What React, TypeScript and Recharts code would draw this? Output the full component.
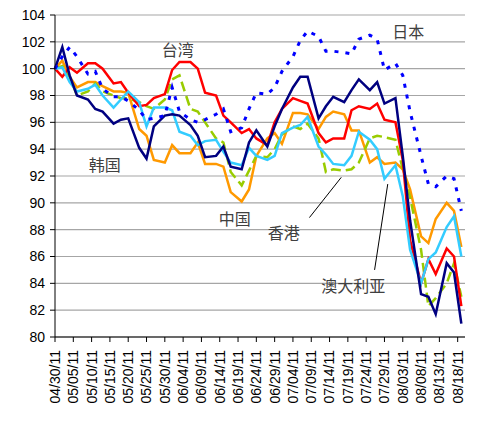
import { LineChart, Line, XAxis, YAxis, CartesianGrid, ReferenceDot, ReferenceLine } from 'recharts';

// days since 04/30/11
const days = [0, 2, 4, 6, 9, 11, 13, 16, 18, 20, 23, 25, 27, 30, 32, 34, 37, 39, 41, 44, 46, 48, 51, 53, 55, 58, 60, 62, 65, 67, 69, 72, 74, 76, 79, 81, 83, 86, 88, 90, 93, 95, 97, 100, 102, 104, 107, 109, 111];

const japan = [100, 100.9, 101.6, 100.9, 99.6, 99.8, 98.5, 97.9, 97.9, 97.6, 96.9, 96.2, 96.3, 96.5, 98.6, 96.8, 96.2, 96.0, 96.2, 96.6, 97.0, 95.3, 95.6, 97.0, 98.2, 98.1, 98.6, 99.8, 100.9, 102.1, 102.8, 102.4, 101.3, 101.3, 101.2, 101.1, 102.2, 102.5, 102.2, 99.9, 100.4, 99.5, 96.8, 93.5, 91.4, 91.2, 92.0, 91.8, 89.4];
const taiwan = [100, 99.4, 100.1, 99.7, 100.4, 100.4, 100.0, 98.9, 99.0, 98.2, 97.2, 97.3, 97.8, 98.1, 99.9, 100.5, 100.5, 100.0, 98.2, 98.0, 96.5, 96.0, 95.2, 95.5, 94.8, 94.3, 96.0, 97.0, 97.8, 97.6, 97.4, 95.2, 94.5, 94.8, 94.8, 96.9, 97.2, 97.0, 97.4, 96.2, 96.0, 93.2, 87.2, 84.0, 85.8, 84.7, 86.6, 86.0, 82.3];
const korea = [100, 101.6, 99.5, 98.0, 97.7, 97.0, 96.8, 95.9, 96.2, 96.3, 94.1, 93.3, 95.7, 96.5, 96.6, 96.5, 95.8, 95.0, 93.4, 93.5, 94.2, 92.7, 92.5, 94.5, 95.4, 94.2, 95.7, 97.0, 98.6, 99.4, 99.4, 96.3, 97.2, 97.9, 97.5, 98.4, 99.2, 98.4, 99.0, 97.4, 97.8, 93.5, 88.7, 83.2, 83.0, 81.7, 85.5, 84.8, 81.0];
const china = [100, 100.6, 99.4, 98.6, 99.0, 99.0, 98.7, 98.3, 98.3, 98.2, 95.5, 95.0, 93.2, 93.0, 94.3, 93.7, 93.7, 94.5, 92.9, 92.9, 92.7, 90.8, 90.1, 91.0, 93.5, 94.8, 95.2, 94.4, 96.7, 96.7, 96.6, 95.5, 96.4, 96.8, 96.6, 95.4, 95.4, 93.0, 93.4, 92.9, 93.0, 92.5, 91.0, 87.5, 87.0, 88.8, 90.0, 89.4, 86.7];
const hongkong = [100, 100.2, 99.4, 98.0, 98.3, 98.9, 98.3, 98.0, 97.8, 97.8, 97.5, 97.2, 97.0, 97.7, 99.2, 99.5, 97.0, 96.8, 96.0, 94.8, 94.5, 92.3, 91.3, 92.4, 93.5, 93.4, 94.0, 95.1, 95.7, 95.5, 95.9, 94.8, 92.3, 92.5, 92.4, 92.5, 93.0, 94.8, 95.0, 94.9, 94.7, 92.5, 90.4, 86.5, 82.3, 82.9, 84.0, 85.5, 83.0];
const australia = [100, 100.1, 99.0, 98.3, 98.5, 98.8, 98.0, 97.1, 97.7, 98.3, 97.5, 95.7, 97.1, 97.1, 96.9, 95.3, 95.0, 94.3, 94.6, 94.7, 93.8, 93.0, 92.8, 94.1, 93.5, 93.2, 93.5, 95.2, 95.6, 95.8, 96.4, 94.2, 93.6, 92.9, 92.8, 93.5, 95.3, 94.7, 94.0, 91.8, 92.8, 90.5, 86.5, 84.0, 85.8, 86.3, 88.2, 89.0, 86.0];

const tickLabels = ['04/30/11', '05/05/11', '05/10/11', '05/15/11', '05/20/11', '05/25/11', '05/30/11', '06/04/11', '06/09/11', '06/14/11', '06/19/11', '06/24/11', '06/29/11', '07/04/11', '07/09/11', '07/14/11', '07/19/11', '07/24/11', '07/29/11', '08/03/11', '08/08/11', '08/13/11', '08/18/11'];
const tickDays = tickLabels.map((_, i) => i * 5);
const yTicks = [80, 82, 84, 86, 88, 90, 92, 94, 96, 98, 100, 102, 104];

const chartData = days.map((day, i) => ({
  day,
  japan: japan[i],
  taiwan: taiwan[i],
  korea: korea[i],
  china: china[i],
  hongkong: hongkong[i],
  australia: australia[i],
}));

const FONT = '"Liberation Sans", Arial, sans-serif';
const CJK = '"Noto Sans CJK SC", sans-serif';

function DateTick({ x, y, payload }: any) {
  const idx = tickDays.indexOf(payload.value);
  return (
    <g transform={`translate(${x},${y})`}>
      <text transform="rotate(-90)" x={-6} y={0} dy="0.35em" textAnchor="end" fontSize={14} fontFamily={FONT} fill="#000">
        {tickLabels[idx] ?? ''}
      </text>
    </g>
  );
}

const annotation = (text: string) => (p: any) => (
  <text x={p.cx} y={p.cy} textAnchor="middle" dominantBaseline="central" fontSize={16} fontFamily={CJK} fill="#404040">
    {text}
  </text>
);

export default function App() {
  return (
    <LineChart width={472} height={421} data={chartData} margin={{ top: 7, right: 15, bottom: 0, left: 0 }}>
      <CartesianGrid vertical={false} stroke="#a6a6a6" strokeWidth={1.2} />
      <XAxis
        dataKey="day"
        type="number"
        domain={[0, 112]}
        ticks={tickDays}
        interval={0}
        height={92}
        tick={<DateTick />}
        tickSize={5}
        axisLine={{ stroke: '#000' }}
        tickLine={{ stroke: '#000' }}
      />
      <YAxis
        type="number"
        domain={[80, 104]}
        ticks={yTicks}
        interval={0}
        width={47}
        tickSize={5}
        tickMargin={5}
        tick={{ fill: '#000', fontSize: 14, fontFamily: FONT }}
        axisLine={{ stroke: '#000' }}
        tickLine={{ stroke: '#000' }}
      />
      <Line type="linear" dataKey="china" stroke="#ff9900" strokeWidth={2.5} dot={false} isAnimationActive={false} />
      <Line type="linear" dataKey="hongkong" stroke="#99cc00" strokeWidth={2.5} strokeDasharray="10 5" dot={false} isAnimationActive={false} />
      <Line type="linear" dataKey="taiwan" stroke="#ff0000" strokeWidth={2.5} dot={false} isAnimationActive={false} />
      <Line type="linear" dataKey="australia" stroke="#33ccff" strokeWidth={2.5} dot={false} isAnimationActive={false} />
      <Line type="linear" dataKey="korea" stroke="#000080" strokeWidth={2.5} dot={false} isAnimationActive={false} />
      <Line type="linear" dataKey="japan" stroke="#0000ff" strokeWidth={3} strokeDasharray="4 7" dot={false} isAnimationActive={false} />
      <ReferenceLine segment={[{ x: 69.5, y: 88.9 }, { x: 78.2, y: 91.9 }]} stroke="#000" strokeWidth={1} />
      <ReferenceLine segment={[{ x: 87.3, y: 85.0 }, { x: 90.9, y: 91.4 }]} stroke="#000" strokeWidth={1} />
      <ReferenceDot x={33.5} y={101.5} r={0} shape={annotation('台湾')} />
      <ReferenceDot x={96.5} y={102.8} r={0} shape={annotation('日本')} />
      <ReferenceDot x={13.6} y={92.9} r={0} shape={annotation('韩国')} />
      <ReferenceDot x={49.1} y={88.9} r={0} shape={annotation('中国')} />
      <ReferenceDot x={62.5} y={87.8} r={0} shape={annotation('香港')} />
      <ReferenceDot x={81.5} y={83.9} r={0} shape={annotation('澳大利亚')} />
    </LineChart>
  );
}
